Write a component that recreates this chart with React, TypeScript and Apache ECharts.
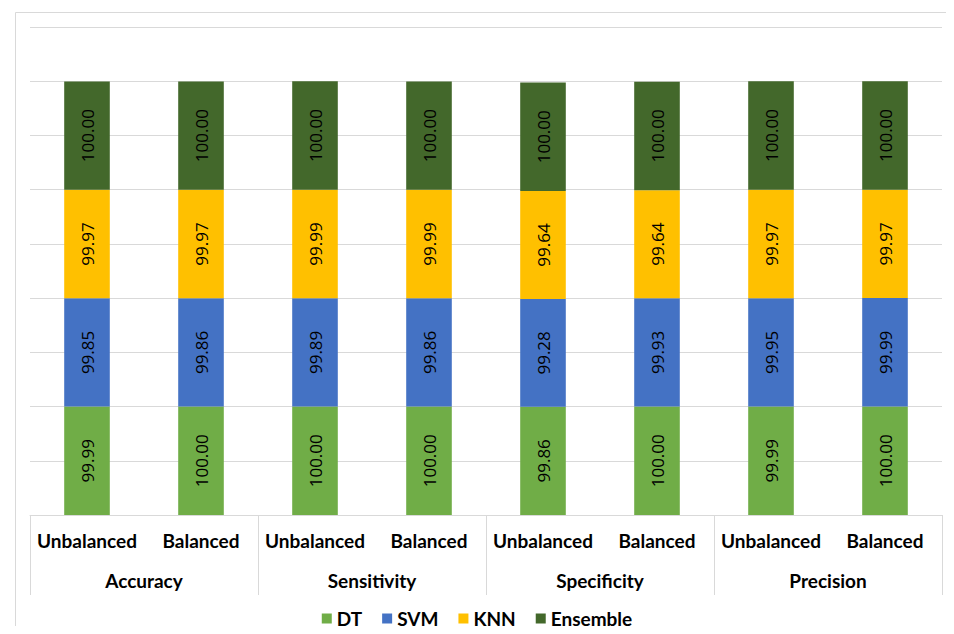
import React, { useEffect, useRef } from "react";
import * as echarts from "echarts";

const conditions = ["Unbalanced", "Balanced", "Unbalanced", "Balanced", "Unbalanced", "Balanced", "Unbalanced", "Balanced"];
const metrics = ["Accuracy", "Sensitivity", "Specificity", "Precision"];

const dtValues = [99.99, 100.0, 100.0, 100.0, 99.86, 100.0, 99.99, 100.0];
const svmValues = [99.85, 99.86, 99.89, 99.86, 99.28, 99.93, 99.95, 99.99];
const knnValues = [99.97, 99.97, 99.99, 99.99, 99.64, 99.64, 99.97, 99.97];
const ensembleValues = [100.0, 100.0, 100.0, 100.0, 100.0, 100.0, 100.0, 100.0];

const seriesDefs = [
  { name: "DT", data: dtValues, color: "#70AD47" },
  { name: "SVM", data: svmValues, color: "#4472C4" },
  { name: "KNN", data: knnValues, color: "#FFC000" },
  { name: "Ensemble", data: ensembleValues, color: "#43682B" },
];

const FONT = "Lato, 'Open Sans', sans-serif";
const LABEL_FONT = "'Open Sans', Lato, sans-serif";

export default function App() {
  const ref = useRef<HTMLDivElement>(null);

  useEffect(() => {
    if (!ref.current) return;
    const chart = echarts.init(ref.current, undefined, { renderer: "svg" });
    chart.setOption({
      animation: false,
      backgroundColor: "#ffffff",
      textStyle: { fontFamily: FONT },
      graphic: [
        {
          type: "rect",
          left: 13,
          top: 10,
          shape: { width: 960, height: 640 },
          style: { fill: "none", stroke: "#d9d9d9", lineWidth: 1 },
          silent: true,
        },
      ],
      grid: { left: 30, right: 12, top: 27, bottom: 119, containLabel: false },
      legend: {
        bottom: 1,
        left: "center",
        itemWidth: 10,
        itemHeight: 10,
        itemGap: 20,
        icon: "rect",
        textStyle: { fontFamily: FONT, fontSize: 19, fontWeight: "bold", color: "#000" },
        data: seriesDefs.map((s) => s.name),
      },
      xAxis: [
        {
          type: "category",
          data: conditions,
          position: "bottom",
          axisLine: { show: true, lineStyle: { color: "#d9d9d9", width: 1 } },
          axisTick: { show: false },
          axisLabel: {
            margin: 16,
            fontFamily: FONT,
            fontSize: 19,
            fontWeight: "bold",
            color: "#000",
            interval: 0,
          },
        },
        {
          type: "category",
          data: metrics,
          position: "bottom",
          axisLine: { show: false },
          axisTick: { show: true, length: 80, lineStyle: { color: "#d9d9d9", width: 1 } },
          axisLabel: {
            margin: 56,
            fontFamily: FONT,
            fontSize: 19,
            fontWeight: "bold",
            color: "#000",
            interval: 0,
          },
        },
      ],
      yAxis: {
        type: "value",
        min: 0,
        max: 450,
        interval: 50,
        axisLabel: { show: false },
        axisLine: { show: false },
        axisTick: { show: false },
        splitLine: { lineStyle: { color: "#d9d9d9", width: 1 } },
      },
      series: seriesDefs.map((s) => ({
        name: s.name,
        type: "bar",
        stack: "total",
        xAxisIndex: 0,
        barWidth: "40%",
        data: s.data,
        itemStyle: { color: s.color },
        label: {
          show: true,
          position: "inside",
          rotate: 90,
          fontFamily: LABEL_FONT,
          fontSize: 17,
          color: "#000",
          formatter: (p: any) => Number(p.value).toFixed(2),
        },
      })),
    });
    return () => chart.dispose();
  }, []);

  return <div ref={ref} style={{ width: 954, height: 634, margin: -8 }} />;
}
